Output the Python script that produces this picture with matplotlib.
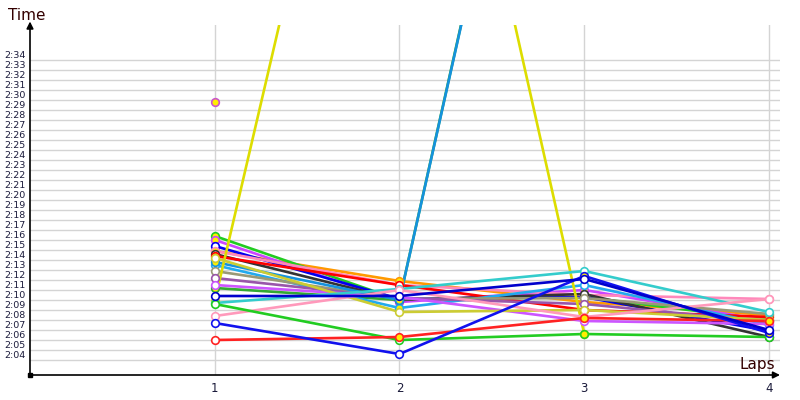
import numpy as np
import matplotlib
matplotlib.use("Agg")
import matplotlib.pyplot as plt
from matplotlib.transforms import blended_transform_factory

# ---- data (lap times in seconds) ----
laps = [1, 2, 3, 4]
series_colors = [
    "#ff9900",
    "#22cc22", "#cc44ff", "#0000ee", "#ff88bb", "#333333", "#ff0000",
    "#33aa33", "#22aaee", "#999977", "#9955aa", "#cc55ff", "#1592dd",
    "#dddd00", "#cccc33", "#33cccc", "#ff99bb", "#22cc22", "#ff2222",
    "#1111ee", "#0000cc",
]
series_values = [
    [134.9, 131.9, 129.8, 128.5],
    [136.4, 130.0, 130.3, 128.0],
    [136.0, 129.8, 131.0, 127.9],
    [135.4, 130.1, 130.3, 126.9],
    [134.9, 131.5, 130.5, 130.1],
    [134.6, 130.0, 130.6, 126.3],
    [134.4, 131.5, 129.0, 128.3],
    [131.2, 130.0, 212.6, np.nan],
    [133.5, 129.2, 131.5, 127.5],
    [132.9, 130.1, 130.2, 128.6],
    [132.2, 130.2, 129.6, 127.8],
    [131.5, 130.3, 127.9, 127.6],
    [133.8, 130.0, 212.3, np.nan],
    [129.9, 209.0, 126.6, np.nan],
    [134.2, 128.8, 129.0, 128.0],
    [129.7, 131.1, 132.9, 128.8],
    [128.4, 131.0, 128.3, 130.1],
    [129.6, 126.0, 126.6, 126.3],
    [126.0, 126.3, 128.2, 127.9],
    [127.7, 124.6, 132.4, 126.7],
    [130.4, 130.4, 132.1, 127.0],
]
# points drawn with yellow fill (highlighted)
highlight = [
    [1, 1, 1, 1],
    [1, 0, 0, 0], [1, 0, 1, 0], [0, 0, 0, 0], [1, 1, 0, 1], [0, 0, 0, 0],
    [1, 0, 1, 0], [1, 0, 0, 0], [0, 1, 0, 0], [0, 0, 0, 0], [0, 0, 0, 0],
    [0, 0, 0, 0], [1, 1, 0, 0], [1, 0, 1, 0], [0, 0, 0, 1], [0, 0, 0, 0],
    [0, 0, 0, 0], [0, 0, 1, 0], [0, 1, 1, 1], [0, 0, 1, 1],
    [0, 0, 0, 0],
]
lone_lap = [1]
lone_value = [149.8]

ytick_values = list(range(124, 155))
ytick_labels = ["%d:%02d" % (v // 60, v % 60) for v in ytick_values]
xtick_labels = ["1", "2", "3", "4"]

# ---- figure ----
fig = plt.figure(figsize=(8, 4), dpi=100)
ax = fig.add_axes([30 / 800, 25 / 400, 750 / 800, 350 / 400])
ax.set_xlim(0, 750 / 184.75)
ax.set_ylim(122.5, 157.5)
for s in ax.spines.values():
    s.set_visible(False)
ax.set_xticks([])
ax.set_yticks([])

# grid
for v in ytick_values:
    ax.axhline(v, color="#d4d4d4", lw=1, zorder=0)
for l in laps:
    ax.axvline(l, color="#d4d4d4", lw=1, zorder=0)

# series
for col, vals in zip(series_colors, series_values):
    ax.plot(laps, vals, color=col, lw=1.9, zorder=2, solid_capstyle="round")
for col, vals, hl in zip(series_colors, series_values, highlight):
    for l, v, h in zip(laps, vals, hl):
        if np.isnan(v):
            continue
        ax.plot([l], [v], marker="o", ms=5.5, mec=col, mew=1.2,
                mfc="#ffee00" if h else "white", zorder=3, ls="none")
ax.plot(lone_lap, lone_value, marker="o", ms=5.5, mec="#cc55cc", mew=1.2,
        mfc="#ffee00", ls="none", zorder=3)

# axes arrows
ax.annotate("", xy=(0, 1.01), xytext=(0, 0), xycoords="axes fraction",
            arrowprops=dict(arrowstyle="-|>", color="black", lw=1.2,
                            mutation_scale=10, shrinkA=0, shrinkB=0),
            annotation_clip=False)
ax.annotate("", xy=(1.0, 0), xytext=(0, 0), xycoords="axes fraction",
            arrowprops=dict(arrowstyle="-|>", color="black", lw=1.2,
                            mutation_scale=10, shrinkA=0, shrinkB=0),
            annotation_clip=False)
ax.plot([0], [0], marker="s", ms=3, color="black", transform=ax.transAxes,
        clip_on=False, zorder=5)

# tick labels
trans_y = blended_transform_factory(fig.transFigure, ax.transData)
for v, lab in zip(ytick_values, ytick_labels):
    fig.text(4 / 800, v + 0.4, lab, transform=trans_y, fontsize=6.8,
             color="#1a1a3a", ha="left", va="center")

trans_x = blended_transform_factory(ax.transData, fig.transFigure)
for l, lab in zip(laps, xtick_labels):
    fig.text(l, 1 - 388 / 400, lab, transform=trans_x, fontsize=8.5,
             color="#1a1a3a", ha="center", va="center")

fig.text(8 / 800, 1 - 15 / 400, "Time", fontsize=11, color="#330000",
         ha="left", va="center")
fig.text(775 / 800, 1 - 365 / 400, "Laps", fontsize=11, color="#330000",
         ha="right", va="center")

fig.savefig("out.png", dpi=100)
